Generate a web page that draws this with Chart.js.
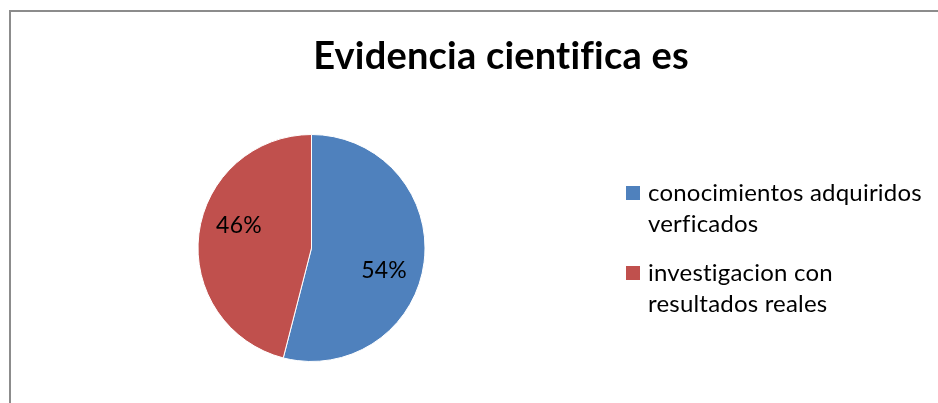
<!DOCTYPE html>
<html>
<head>
<meta charset="utf-8">
<script src="https://cdn.jsdelivr.net/npm/chart.js@4/dist/chart.umd.min.js"></script>
<style>
  html, body { margin: 0; padding: 0; background: #fff; }
  #wrap { position: relative; width: 938px; height: 403px; overflow: hidden; }
  #frame {
    position: absolute; left: 9px; top: 10px; width: 1000px; height: 500px;
    border-left: 2px solid #8c8c8c; border-top: 2px solid #8c8c8c;
  }
  canvas { position: absolute; left: 0; top: 0; }
</style>
</head>
<body>
<div id="wrap">
  <div id="frame"></div>
  <canvas id="chart" width="938" height="403"></canvas>
</div>
<script>
const TITLE = "Evidencia cientifica es";
const categories = [
  ["conocimientos adquiridos", "verficados"],
  ["investigacion con", "resultados reales"]
];
const values = [54, 46];
const colors = ["#4f81bd", "#c0504d"];

const FONT = "Lato, 'Open Sans', sans-serif";

// no fi / ti ligatures, Excel draws them as separate letters
function plainText(ctx) {
  if ("textRendering" in ctx) ctx.textRendering = "optimizeSpeed";
  if ("letterSpacing" in ctx) ctx.letterSpacing = "0.2px";
}

const titlePlugin = {
  id: "excelTitle",
  afterDraw(chart) {
    const ctx = chart.ctx;
    ctx.save();
    plainText(ctx);
    ctx.font = "bold 38px " + FONT;
    ctx.fillStyle = "#000";
    ctx.textAlign = "center";
    ctx.textBaseline = "alphabetic";
    ctx.fillText(TITLE, 501, 69);
    ctx.restore();
  }
};

const labelPlugin = {
  id: "sliceLabels",
  afterDatasetsDraw(chart) {
    const ctx = chart.ctx;
    const meta = chart.getDatasetMeta(0);
    const total = values.reduce((a, b) => a + b, 0);
    ctx.save();
    plainText(ctx);
    ctx.font = "23px " + FONT;
    ctx.fillStyle = "#000";
    ctx.textAlign = "center";
    ctx.textBaseline = "middle";
    meta.data.forEach((arc, i) => {
      const p = arc.getProps(["x", "y", "startAngle", "endAngle", "outerRadius"], true);
      const mid = (p.startAngle + p.endAngle) / 2 + 0.18;
      const r = p.outerRadius * 0.67;
      const pct = Math.round(values[i] / total * 100) + "%";
      ctx.fillText(pct, p.x + Math.cos(mid) * r, p.y + Math.sin(mid) * r);
    });
    ctx.restore();
  }
};

const legendPlugin = {
  id: "wrapLegend",
  afterDraw(chart) {
    const ctx = chart.ctx;
    const x = 626, box = 14, lineH = 31, gap = 18;
    let y = 186;
    ctx.save();
    plainText(ctx);
    ctx.font = "24px " + FONT;
    ctx.textBaseline = "alphabetic";
    ctx.textAlign = "left";
    categories.forEach((lines, i) => {
      ctx.fillStyle = colors[i];
      ctx.fillRect(x, y, box, box);
      ctx.fillStyle = "#000";
      lines.forEach((t, j) => ctx.fillText(t, x + 22, y + 15 + j * lineH));
      y += lines.length * lineH + gap;
    });
    ctx.restore();
  }
};

new Chart(document.getElementById("chart"), {
  type: "pie",
  data: {
    labels: categories.map(l => l.join(" ")),
    datasets: [{
      data: values,
      backgroundColor: colors,
      borderColor: "#fff",
      borderWidth: 1
    }]
  },
  options: {
    responsive: false,
    animation: false,
    layout: { padding: { left: 197, right: 512, top: 134, bottom: 41 } },
    plugins: {
      legend: { display: false },
      title: { display: false },
      tooltip: { enabled: false }
    }
  },
  plugins: [titlePlugin, labelPlugin, legendPlugin]
});
</script>
</body>
</html>
